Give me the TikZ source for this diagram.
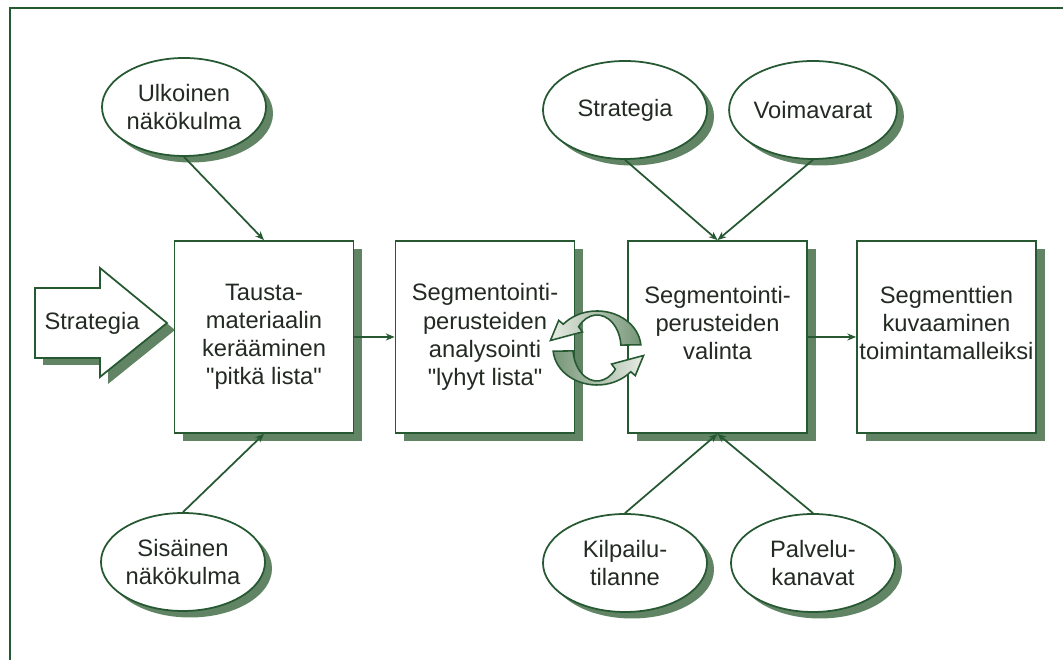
\documentclass[tikz,border=0pt]{standalone}
\usepackage{fontspec}
\setmainfont{Liberation Sans}[Ligatures=TeXOff]
\usepackage{xcolor}
\usetikzlibrary{shapes.geometric,shadows,arrows.meta,calc}
\definecolor{framegreen}{RGB}{38,88,50}
\definecolor{shadowgreen}{RGB}{96,132,100}
\definecolor{textdark}{RGB}{35,42,35}
\definecolor{loopdark}{RGB}{118,150,120}
\definecolor{looplight}{RGB}{232,236,228}

\begin{document}
\begin{tikzpicture}[
    box/.style={draw=framegreen, line width=1pt, fill=white, inner sep=0pt,
        minimum width=3.58cm, minimum height=3.84cm, align=center, text=textdark,
        font=\fontsize{13.5}{16}\selectfont,
        drop shadow={shadow xshift=0.17cm, shadow yshift=-0.16cm, fill=shadowgreen, opacity=1}},
    bubble/.style={ellipse, draw=framegreen, line width=1pt, fill=white, inner sep=0pt,
        minimum width=3.28cm, minimum height=1.96cm, align=center, text=textdark,
        font=\fontsize{13.5}{16}\selectfont,
        drop shadow={shadow xshift=0.14cm, shadow yshift=-0.13cm, fill=shadowgreen, opacity=1}},
    link/.style={draw=framegreen, line width=1pt, -{Stealth[length=5pt,width=4pt]}},
    loopline/.style={draw=framegreen, line width=0.9pt}
]
    \useasboundingbox (0,0) rectangle (21.26,13.2);
    \clip (0,0) rectangle (21.26,13.2);

    % Frame
    \draw[framegreen, line width=1.3pt] (0.2,-1) rectangle (22,13.04);

    % Strategy arrow
    \draw[framegreen, line width=1pt, fill=white,
        drop shadow={shadow xshift=0.16cm, shadow yshift=-0.14cm, fill=shadowgreen, opacity=1}]
        (0.7,7.44) -- (2.0,7.44) -- (2.0,7.84) -- (3.34,6.74) -- (2.0,5.66) -- (2.0,6.04) -- (0.7,6.04) -- cycle;
    \node[text=textdark, font=\fontsize{13.5}{16}\selectfont] (input) at (1.84,6.74) {Strategia};

    % Process boxes
    \node[box] (collect) at (5.28,6.46) {Tausta-\\materiaalin\\kerääminen\\"pitkä lista"};
    \node[box] (analyse) at (9.70,6.46) {Segmentointi-\\perusteiden\\analysointi\\"lyhyt lista"};
    \node[box] (choose) at (14.35,6.46) {Segmentointi-\\perusteiden\\valinta\\~};
    \node[box] (describe) at (18.93,6.46) {Segmenttien\\kuvaaminen\\toimintamalleiksi\\~};

    % Influences
    \node[bubble] (outer) at (3.68,11.06) {Ulkoinen\\näkökulma};
    \node[bubble] (inner) at (3.66,1.96) {Sisäinen\\näkökulma};
    \node[bubble] (strat) at (12.5,11.0) {Strategia};
    \node[bubble] (power) at (16.26,11.0) {Voimavarat};
    \node[bubble] (rivals) at (12.5,1.94) {Kilpailu-\\tilanne};
    \node[bubble] (channels) at (16.26,1.94) {Palvelu-\\kanavat};

    % Connectors
    \draw[link] (outer.south) -- (collect.north);
    \draw[link] (inner.north) -- (collect.south);
    \draw[link] (strat.south) -- (choose.north);
    \draw[link] (power.south) -- (choose.north);
    \draw[link] (rivals.north) -- (choose.south);
    \draw[link] (channels.north) -- (choose.south);
    \draw[link] (collect.east) -- (analyse.west);
    \draw[link] (choose.east) -- (describe.west);

    % Iteration loop
    \coordinate (loop) at (11.94,6.24);
    \draw[loopline, left color=looplight, right color=loopdark]
        ($(loop)+(5:0.88 and 0.74)$) arc[start angle=5, end angle=140, x radius=0.88, y radius=0.74]
        -- ($(loop)+(140:1.0 and 0.86)$) -- ($(loop)+(166:0.96 and 0.62)$)
        -- ($(loop)+(140:0.38 and 0.5)$) -- ($(loop)+(140:0.48 and 0.66)$)
        arc[start angle=140, end angle=5, x radius=0.48, y radius=0.66] -- cycle;
    \draw[loopline, left color=loopdark, right color=looplight]
        ($(loop)+(185:0.88 and 0.74)$) arc[start angle=185, end angle=320, x radius=0.88, y radius=0.74]
        -- ($(loop)+(320:1.0 and 0.86)$) -- ($(loop)+(346:0.96 and 0.62)$)
        -- ($(loop)+(320:0.38 and 0.5)$) -- ($(loop)+(320:0.48 and 0.66)$)
        arc[start angle=320, end angle=185, x radius=0.48, y radius=0.66] -- cycle;
\end{tikzpicture}
\end{document}
